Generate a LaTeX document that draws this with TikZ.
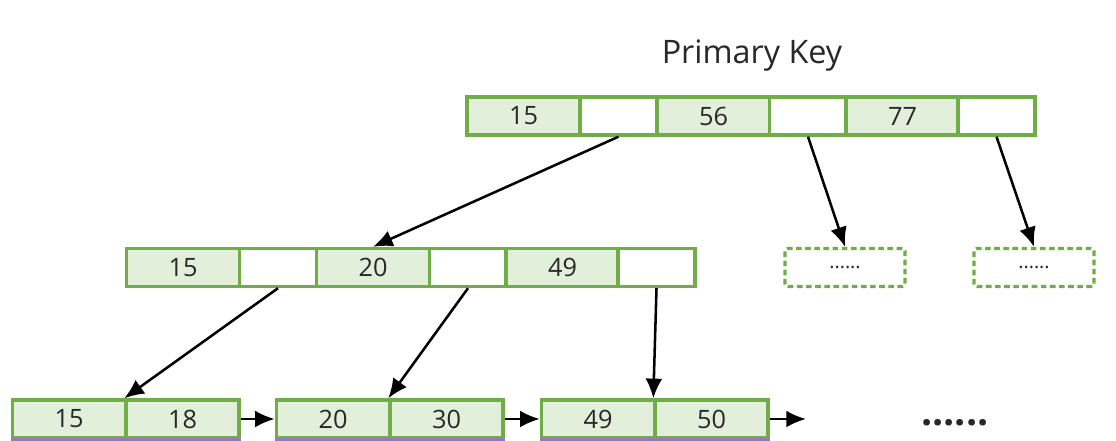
\documentclass[tikz,border=0pt]{standalone}
\usepackage{fontspec}
\setmainfont{Open Sans}
\usetikzlibrary{arrows.meta}
\definecolor{kgreen}{RGB}{112,173,71}
\definecolor{kfill}{RGB}{226,239,218}
\definecolor{kpurple}{RGB}{150,120,190}
\definecolor{ktext}{RGB}{40,40,40}
\begin{document}
\begin{tikzpicture}[x=0.025cm, y=-0.025cm,
  cell/.style={draw=kgreen, line width=2.4pt, minimum height=0.95cm, inner sep=0pt, text=ktext, font=\fontsize{18}{21}\selectfont},
  key/.style={cell, fill=kfill, minimum width=2.825cm},
  ptr/.style={cell, fill=white, minimum width=1.925cm},
  more/.style={draw=kgreen, line width=2.4pt, dash pattern=on 4pt off 2.5pt, rounded corners=2pt, minimum width=3cm, minimum height=0.95cm, text=ktext, font=\fontsize{14}{16}\selectfont},
  link/.style={line width=1.8pt, -{Latex[length=14pt, width=12pt]}}]
\useasboundingbox (0,0) rectangle (1116,440);
\clip (0,0) rectangle (1116,440);

\node[text=ktext, font=\fontsize{23}{26}\selectfont] (title) at (752,56) {Primary Key};

\node[key] (t1) at (523.5,116) {15};
\node[ptr] (t2) at (618.5,116) {};
\node[key] (t3) at (713.5,116) {56};
\node[ptr] (t4) at (808,116) {};
\node[key] (t5) at (902.5,116) {77};
\node[ptr] (t6) at (996.5,116) {};

\node[key] (m1) at (183,267.5) {15};
\node[ptr] (m2) at (278,267.5) {};
\node[key] (m3) at (373,267.5) {20};
\node[ptr] (m4) at (468,267.5) {};
\node[key] (m5) at (562.5,267.5) {49};
\node[ptr] (m6) at (656.5,267.5) {};

\node[more] (d1) at (845,267.5) {......};
\node[more] (d2) at (1034,267.5) {......};

\node[key] (l1) at (69,419) {15};
\node[key] (l2) at (182.5,419) {18};
\node[key] (l3) at (333,419) {20};
\node[key] (l4) at (446.5,419) {30};
\node[key] (l5) at (598,419) {49};
\node[key] (l6) at (711.5,419) {50};
\coordinate (next) at (806,419);
\node[text=ktext, font=\fontsize{28}{30}\selectfont\bfseries] (etc) at (955,423) {......};

\draw[kpurple, line width=2.4pt] (l1.south west) -- (l2.south east);
\draw[kpurple, line width=2.4pt] (l3.south west) -- (l4.south east);
\draw[kpurple, line width=2.4pt] (l5.south west) -- (l6.south east);

\draw[link] (t2.south) -- (m3.north);
\draw[link] (t4.south) -- (d1.north);
\draw[link] (t6.south) -- (d2.north);
\draw[link] (m2.south) -- (l2.north west);
\draw[link] (m4.south) -- (l4.north west);
\draw[link] (m6.south) -- (l6.north west);
\draw[link] (l2.east) -- (l3.west);
\draw[link] (l4.east) -- (l5.west);
\draw[link] (l6.east) -- (next);
\end{tikzpicture}
\end{document}
